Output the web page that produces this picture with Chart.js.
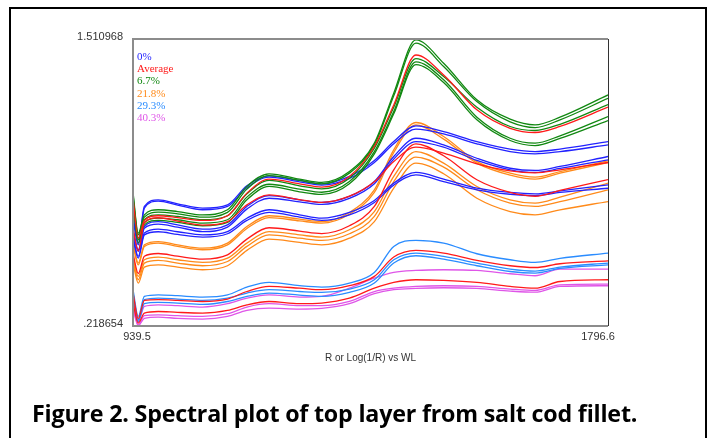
<!DOCTYPE html>
<html>
<head>
<meta charset="utf-8">
<script src="https://cdn.jsdelivr.net/npm/chart.js@4.4.0/dist/chart.umd.min.js"></script>
<style>
  html, body { margin:0; padding:0; background:#fff; }
  #wrap { position:relative; width:711px; height:438px; overflow:hidden; background:#fff; }
  #frame { position:absolute; left:9px; top:7px; width:694px; height:470px; border:2px solid #000; }
  #cv { position:absolute; left:0; top:0; }
  #caption { position:absolute; left:32px; top:413px; transform:translateY(-50%); font-family:'Open Sans', sans-serif; font-weight:bold; font-size:21px; color:#000; white-space:nowrap; letter-spacing:-0.2px; }
</style>
</head>
<body>
<div id="wrap">
  <div id="frame"></div>
  <canvas id="cv" width="711" height="438"></canvas>
  <div id="caption">Figure 2. Spectral plot of top layer from salt cod fillet.</div>
</div>
<script>
var wl = [939.5, 949, 960, 985, 1020, 1065, 1110, 1145, 1185, 1240, 1280, 1330, 1375, 1410, 1450, 1500, 1560, 1620, 1665, 1710, 1796.6];

var yMin = 0.218654, yMax = 1.510968;
var xMin = 939.5,    xMax = 1796.6;
var yTickLabels = ['.218654', '1.510968'];
var xTickLabels = ['939.5', '1796.6'];
var axisTitle   = 'R or Log(1/R) vs WL';

var groupNames  = ['0%', 'Average', '6.7%', '21.8%', '29.3%', '40.3%'];
var groupColors = ['#2222ff', '#ff1a1a', '#118811', '#ff8a1a', '#2a8cff', '#df55e8'];

// 0% salt
var lines0 = [
  [0.712, 0.592, 0.757, 0.787, 0.769, 0.749, 0.764, 0.850, 0.895, 0.874, 0.859, 0.892, 0.964, 1.049, 1.120, 1.094, 1.049, 1.015, 1.004, 1.015, 1.049],
  [0.704, 0.584, 0.749, 0.781, 0.763, 0.742, 0.757, 0.841, 0.889, 0.868, 0.853, 0.883, 0.955, 1.039, 1.105, 1.084, 1.039, 1.004, 0.994, 1.004, 1.034],
  [0.652, 0.562, 0.667, 0.689, 0.674, 0.655, 0.674, 0.757, 0.806, 0.787, 0.775, 0.802, 0.869, 0.982, 1.064, 1.034, 0.974, 0.929, 0.919, 0.937, 0.982],
  [0.644, 0.554, 0.659, 0.677, 0.664, 0.644, 0.664, 0.745, 0.794, 0.778, 0.766, 0.793, 0.859, 0.970, 1.049, 1.024, 0.964, 0.922, 0.910, 0.928, 0.967],
  [0.622, 0.532, 0.637, 0.655, 0.643, 0.629, 0.644, 0.704, 0.742, 0.719, 0.704, 0.730, 0.784, 0.862, 0.910, 0.880, 0.839, 0.820, 0.814, 0.827, 0.854],
  [0.614, 0.524, 0.629, 0.643, 0.631, 0.619, 0.634, 0.694, 0.730, 0.709, 0.694, 0.719, 0.775, 0.853, 0.899, 0.869, 0.832, 0.812, 0.806, 0.820, 0.839]
];
var avg0 = [0.658, 0.557, 0.683, 0.706, 0.691, 0.673, 0.689, 0.764, 0.809, 0.788, 0.775, 0.803, 0.868, 0.959, 1.024, 0.997, 0.949, 0.917, 0.908, 0.922, 0.955];

// 6.7% salt
var lines67 = [
  [0.820, 0.637, 0.719, 0.742, 0.734, 0.719, 0.742, 0.847, 0.904, 0.880, 0.865, 0.914, 1.042, 1.267, 1.507, 1.402, 1.237, 1.150, 1.124, 1.159, 1.259],
  [0.809, 0.629, 0.709, 0.731, 0.724, 0.709, 0.730, 0.835, 0.896, 0.874, 0.859, 0.907, 1.034, 1.255, 1.492, 1.387, 1.229, 1.138, 1.112, 1.147, 1.244],
  [0.794, 0.614, 0.697, 0.719, 0.712, 0.697, 0.715, 0.814, 0.874, 0.850, 0.836, 0.884, 1.019, 1.204, 1.423, 1.342, 1.204, 1.117, 1.099, 1.127, 1.216],
  [0.787, 0.607, 0.685, 0.704, 0.697, 0.682, 0.697, 0.799, 0.857, 0.835, 0.821, 0.869, 1.004, 1.184, 1.408, 1.327, 1.159, 1.064, 1.042, 1.075, 1.162],
  [0.779, 0.592, 0.674, 0.694, 0.685, 0.670, 0.685, 0.787, 0.847, 0.823, 0.811, 0.859, 0.994, 1.174, 1.396, 1.315, 1.147, 1.054, 1.031, 1.063, 1.144]
];
var avg67 = [0.794, 0.614, 0.694, 0.715, 0.707, 0.694, 0.715, 0.817, 0.880, 0.859, 0.844, 0.892, 1.027, 1.214, 1.439, 1.349, 1.192, 1.109, 1.090, 1.117, 1.204];

// 21.8% salt
var lines218 = [
  [0.592, 0.502, 0.584, 0.599, 0.584, 0.569, 0.592, 0.667, 0.715, 0.700, 0.689, 0.730, 0.832, 1.012, 1.135, 1.072, 0.959, 0.907, 0.889, 0.914, 0.962],
  [0.584, 0.494, 0.577, 0.592, 0.577, 0.562, 0.584, 0.658, 0.707, 0.692, 0.682, 0.722, 0.820, 1.000, 1.124, 1.060, 0.952, 0.898, 0.880, 0.907, 0.955],
  [0.532, 0.442, 0.517, 0.529, 0.517, 0.505, 0.524, 0.592, 0.644, 0.629, 0.619, 0.652, 0.734, 0.892, 1.004, 0.952, 0.847, 0.787, 0.772, 0.799, 0.862],
  [0.517, 0.427, 0.502, 0.514, 0.502, 0.490, 0.509, 0.577, 0.629, 0.614, 0.604, 0.634, 0.712, 0.869, 0.979, 0.934, 0.832, 0.772, 0.757, 0.779, 0.832],
  [0.502, 0.412, 0.484, 0.494, 0.484, 0.472, 0.490, 0.559, 0.610, 0.595, 0.584, 0.614, 0.689, 0.839, 0.952, 0.904, 0.794, 0.734, 0.719, 0.742, 0.779]
];
var avg218 = [0.545, 0.455, 0.533, 0.545, 0.533, 0.520, 0.539, 0.610, 0.661, 0.646, 0.635, 0.670, 0.757, 0.922, 1.039, 0.985, 0.877, 0.820, 0.803, 0.829, 0.878];

// 29.3% salt
var lines293 = [
  [0.382, 0.262, 0.352, 0.359, 0.355, 0.349, 0.359, 0.394, 0.415, 0.400, 0.394, 0.412, 0.460, 0.577, 0.604, 0.592, 0.544, 0.517, 0.505, 0.523, 0.547],
  [0.367, 0.247, 0.337, 0.344, 0.340, 0.334, 0.344, 0.367, 0.382, 0.374, 0.370, 0.385, 0.427, 0.517, 0.547, 0.532, 0.502, 0.475, 0.466, 0.484, 0.502],
  [0.352, 0.239, 0.319, 0.325, 0.322, 0.316, 0.329, 0.352, 0.367, 0.358, 0.352, 0.370, 0.412, 0.502, 0.535, 0.520, 0.490, 0.464, 0.457, 0.478, 0.494]
];
var avg293 = [0.367, 0.253, 0.334, 0.337, 0.334, 0.329, 0.340, 0.374, 0.397, 0.389, 0.382, 0.400, 0.442, 0.529, 0.559, 0.547, 0.514, 0.490, 0.482, 0.499, 0.512];

// 40.3% salt
var lines403 = [
  [0.352, 0.239, 0.307, 0.314, 0.310, 0.304, 0.319, 0.344, 0.359, 0.349, 0.352, 0.389, 0.434, 0.460, 0.469, 0.472, 0.469, 0.454, 0.445, 0.475, 0.475],
  [0.307, 0.224, 0.265, 0.269, 0.265, 0.262, 0.274, 0.304, 0.319, 0.310, 0.310, 0.329, 0.374, 0.389, 0.397, 0.400, 0.397, 0.385, 0.379, 0.404, 0.407],
  [0.295, 0.220, 0.253, 0.259, 0.253, 0.250, 0.262, 0.289, 0.299, 0.295, 0.298, 0.319, 0.364, 0.382, 0.388, 0.391, 0.388, 0.376, 0.371, 0.397, 0.400]
];
var avg403 = [0.322, 0.232, 0.277, 0.284, 0.280, 0.277, 0.289, 0.314, 0.329, 0.319, 0.322, 0.344, 0.389, 0.415, 0.427, 0.424, 0.415, 0.397, 0.389, 0.419, 0.427];

function toPts(vals) {
  return vals.map(function(v, i) { return { x: wl[i], y: v }; });
}
function mkLine(vals, color) {
  return {
    data: toPts(vals),
    borderColor: color,
    borderWidth: 1.3,
    pointRadius: 0,
    fill: false,
    cubicInterpolationMode: 'monotone'
  };
}

var datasets = [];
// averages first so they draw on top
[avg0, avg67, avg218, avg293, avg403].forEach(function(a) { datasets.push(mkLine(a, groupColors[1])); });
[[lines67, 2], [lines0, 0], [lines218, 3], [lines293, 4], [lines403, 5]].forEach(function(g) {
  g[0].forEach(function(l) { datasets.push(mkLine(l, groupColors[g[1]])); });
});

var textPlugin = {
  id: 'texts',
  afterDraw: function(chart) {
    var ctx = chart.ctx, a = chart.chartArea;
    var xs = chart.scales.x, ys = chart.scales.y;
    ctx.save();
    // plot frame
    ctx.strokeStyle = '#8c8c8c';
    ctx.lineWidth = 2;
    ctx.beginPath();
    ctx.moveTo(a.right, a.bottom); ctx.lineTo(a.left, a.bottom);
    ctx.lineTo(a.left, a.top); ctx.lineTo(a.right, a.top);
    ctx.stroke();
    ctx.strokeStyle = '#333';
    ctx.lineWidth = 1;
    ctx.beginPath();
    ctx.moveTo(a.right + 0.5, a.top); ctx.lineTo(a.right + 0.5, a.bottom);
    ctx.stroke();

    // axis labels
    ctx.fillStyle = '#333';
    ctx.font = '11px "Liberation Sans", Arial, sans-serif';
    ctx.textAlign = 'right';
    ctx.textBaseline = 'middle';
    ctx.fillText(yTickLabels[0], a.left - 10, ys.getPixelForValue(yMin) - 2);
    ctx.fillText(yTickLabels[1], a.left - 10, ys.getPixelForValue(yMax) - 2);
    ctx.textAlign = 'center';
    ctx.fillText(xTickLabels[0], xs.getPixelForValue(xMin) + 4, a.bottom + 11);
    ctx.fillText(xTickLabels[1], xs.getPixelForValue(xMax) - 10, a.bottom + 11);
    ctx.font = '10px "Liberation Sans", Arial, sans-serif';
    ctx.fillText(axisTitle, (a.left + a.right) / 2, a.bottom + 32);

    // legend
    ctx.font = '11px "Liberation Serif", "Times New Roman", serif';
    ctx.textAlign = 'left';
    groupNames.forEach(function(n, i) {
      ctx.fillStyle = groupColors[i];
      ctx.fillText(n, a.left + 4, a.top + 18 + i * 12.3);
    });
    ctx.restore();
  }
};

new Chart(document.getElementById('cv').getContext('2d'), {
  type: 'line',
  data: { datasets: datasets },
  options: {
    responsive: false,
    animation: false,
    layout: { padding: { left: 133, top: 39, right: 103, bottom: 112 } },
    plugins: { legend: { display: false }, tooltip: { enabled: false } },
    scales: {
      x: { type: 'linear', min: xMin, max: xMax, display: false },
      y: { type: 'linear', min: yMin, max: yMax, display: false }
    }
  },
  plugins: [textPlugin]
});

// stretch the caption to the width it has in the figure
var cap = document.getElementById('caption');
var capW = cap.getBoundingClientRect().width;
if (capW > 0) cap.style.fontSize = (21 * 604 / capW).toFixed(2) + 'px';
</script>
</body>
</html>
